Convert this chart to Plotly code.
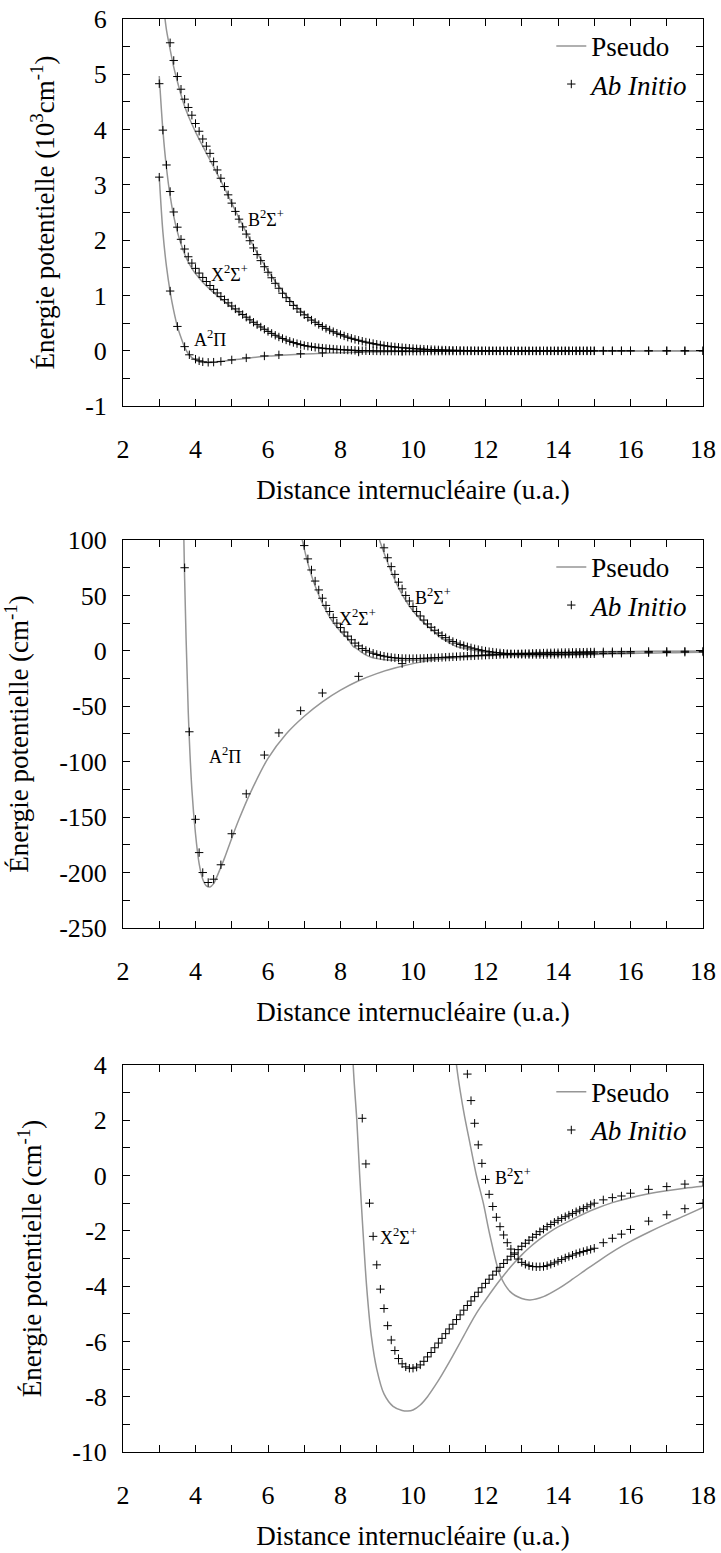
import plotly.graph_objects as go

FONT = "Liberation Serif"
GRAY = "rgb(150,150,150)"

# --- ab initio points (cm-1) ---
r_dense = [
    3.0, 3.1, 3.2, 3.3, 3.4, 3.5, 3.6, 3.7, 3.8, 3.9,
    4.0, 4.1, 4.2, 4.3, 4.4, 4.5, 4.6, 4.7, 4.8, 4.9,
    5.0, 5.1, 5.2, 5.3, 5.4, 5.5, 5.6, 5.7, 5.8, 5.9,
    6.0, 6.1, 6.2, 6.3, 6.4, 6.5, 6.6, 6.7, 6.8, 6.9,
    7.0, 7.1, 7.2, 7.3, 7.4, 7.5, 7.6, 7.7, 7.8, 7.9,
    8.0, 8.1, 8.2, 8.3, 8.4, 8.5, 8.6, 8.7, 8.8, 8.9,
    9.0, 9.1, 9.2, 9.3, 9.4, 9.5, 9.6, 9.7, 9.8, 9.9,
    10.0, 10.1, 10.2, 10.3, 10.4, 10.5, 10.6, 10.7, 10.8, 10.9,
    11.0, 11.1, 11.2, 11.3, 11.4, 11.5, 11.6, 11.7, 11.8, 11.9,
    12.0, 12.1, 12.2, 12.3, 12.4, 12.5, 12.6, 12.7, 12.8, 12.9,
    13.0, 13.1, 13.2, 13.3, 13.4, 13.5, 13.6, 13.7, 13.8, 13.9,
    14.0, 14.1, 14.2, 14.3, 14.4, 14.5, 14.6, 14.7, 14.8, 14.9,
    15.0, 15.25, 15.5, 15.75, 16.0, 16.5, 17.0, 17.5, 18.0,
]

x_ab = [
    4830, 3990, 3360, 2880, 2510, 2235, 2015, 1840, 1700, 1585,
    1490, 1405, 1326, 1252, 1180, 1110, 1045, 983, 924, 866,
    810, 757, 705, 655, 607, 560, 515, 472, 430, 389,
    350, 314, 280, 249, 221, 195, 171, 149, 129, 111,
    95, 83, 73, 63, 55, 47.5, 41, 35.5, 30, 25,
    21, 17, 13.3, 10, 7, 4.5, 2.07, 0.42, -1.0, -2.2,
    -3.23, -4.11, -4.81, -5.43, -5.95, -6.33, -6.62, -6.81, -6.92, -6.97,
    -6.97, -6.93, -6.85, -6.72, -6.56, -6.40, -6.23, -6.06, -5.89, -5.72,
    -5.55, -5.38, -5.21, -5.04, -4.87, -4.70, -4.54, -4.38, -4.22, -4.06,
    -3.90, -3.75, -3.60, -3.46, -3.32, -3.18, -3.05, -2.92, -2.80, -2.68,
    -2.56, -2.45, -2.34, -2.23, -2.13, -2.03, -1.94, -1.85, -1.77, -1.69,
    -1.62, -1.55, -1.49, -1.43, -1.37, -1.31, -1.25, -1.19, -1.13, -1.06,
    -1.00, -0.88, -0.80, -0.74, -0.64, -0.50, -0.40, -0.31, -0.23,
]

b_ab = [
    None, None, None, 5570, 5250, 4960, 4730, 4550, 4400, 4260,
    4110, 3970, 3830, 3700, 3570, 3420, 3270, 3120, 2970, 2820,
    2670, 2520, 2380, 2240, 2110, 1990, 1860, 1740, 1630, 1520,
    1420, 1320, 1220, 1130, 1040, 960, 890, 820, 760, 700,
    650, 600, 555, 515, 475, 440, 405, 375, 345, 318,
    293, 268, 246, 225, 206, 189, 172, 157, 143, 130,
    117, 105, 93, 84, 76, 69, 62, 56, 50, 45,
    40, 35.5, 31.5, 27.8, 24.3, 21.3, 18.6, 16.1, 13.9, 11.9,
    9.9, 8.4, 7.0, 5.8, 4.7, 3.67, 2.71, 1.89, 1.11, 0.44,
    -0.14, -0.68, -1.12, -1.51, -1.85, -2.15, -2.43, -2.66, -2.85, -3.02,
    -3.14, -3.21, -3.26, -3.29, -3.30, -3.30, -3.29, -3.26, -3.21, -3.16,
    -3.10, -3.04, -2.98, -2.93, -2.88, -2.83, -2.79, -2.75, -2.71, -2.67,
    -2.63, -2.43, -2.27, -2.12, -1.95, -1.65, -1.42, -1.20, -1.00,
]

r_a_ab = [3.0, 3.3, 3.5, 3.7, 3.83, 4.0, 4.1, 4.2, 4.35, 4.5,
          4.7, 5.0, 5.4, 5.9, 6.3, 6.9, 7.5, 8.5, 9.7]
a_ab = [3140, 1080, 440, 75, -73, -152, -182, -200, -209, -206,
        -193, -165, -129, -94, -74, -54, -38, -23, -11.5]

# --- pseudopotential curves (cm-1) ---
r_a_ps = [3.0, 3.1, 3.2, 3.3, 3.4, 3.5, 3.6, 3.7, 3.8, 3.9, 4.0, 4.1, 4.2,
          4.3, 4.4, 4.5, 4.6, 4.8, 5.0, 5.2, 5.5, 6.0, 6.5, 7.0, 7.5, 8.0,
          8.5, 9.0, 9.5, 10.0, 10.5, 11.0, 12.0, 13.0, 14.0, 15.0, 16.0,
          17.0, 18.0]
a_ps = [3150, 2150, 1520, 1070, 720, 440, 240, 65, -55, -125, -165, -192,
        -206, -212, -213, -210, -203, -187, -169, -152, -129, -97, -75,
        -59, -46, -35.5, -27, -20.5, -15.5, -11.5, -8.5, -6.3, -3.5, -2.0,
        -1.2, -0.8, -0.5, -0.35, -0.25]

r_x_ps = [3.0, 3.1, 3.2, 3.3, 3.4, 3.5, 3.6, 3.7, 3.8, 3.9, 4.0, 4.2, 4.4,
          4.6, 4.8, 5.0, 5.25, 5.5, 5.75, 6.0, 6.25, 6.5, 6.75, 7.0, 7.25,
          7.5, 7.75, 8.0, 8.2, 8.35, 8.45, 8.53, 8.62, 8.72, 8.85, 9.0,
          9.2, 9.45, 9.7, 9.86, 10.0, 10.2, 10.4, 10.6, 10.8, 11.0, 11.2,
          11.4, 11.6, 11.8, 12.0, 12.2, 12.4, 12.6, 12.8, 13.0, 13.2, 13.4,
          13.6, 13.8, 14.0, 14.5, 15.0, 15.5, 16.0, 16.5, 17.0, 17.5, 18.0]
x_ps = [4970, 3990, 3300, 2800, 2430, 2150, 1930, 1750, 1605, 1490, 1395,
        1240, 1110, 995, 890, 790, 675, 560, 455, 355, 265, 190, 135, 92,
        63, 43, 28, 17.5, 11, 4, 2, 0, -2, -4, -5.8, -7.0, -7.9, -8.35,
        -8.5, -8.52, -8.48, -8.3, -8.0, -7.62, -7.2, -6.75, -6.28, -5.8,
        -5.32, -4.88, -4.5, -4.13, -3.78, -3.45, -3.15, -2.87, -2.62, -2.4,
        -2.2, -2.02, -1.86, -1.52, -1.22, -0.98, -0.8, -0.66, -0.55, -0.46,
        -0.39]

r_b_ps = [3.15, 3.2, 3.3, 3.4, 3.5, 3.6, 3.7, 3.8, 3.9, 4.0, 4.2, 4.4, 4.6,
          4.8, 5.0, 5.2, 5.4, 5.6, 5.8, 6.0, 6.25, 6.5, 6.75, 7.0, 7.5, 8.0,
          8.5, 9.0, 9.25, 9.5, 9.75, 10.0, 10.25, 10.5, 10.75, 11.0, 11.2,
          11.4, 11.57, 11.75, 11.94, 12.12, 12.4, 12.68, 13.0, 13.23, 13.6,
          14.0, 14.4, 14.8, 15.2, 15.6, 16.0, 16.5, 17.0, 17.5, 18.0]
b_ps = [6050, 5800, 5450, 5130, 4870, 4630, 4420, 4250, 4100, 3960, 3700,
        3450, 3200, 2940, 2670, 2400, 2140, 1890, 1660, 1450, 1210, 1000,
        820, 670, 440, 285, 180, 108, 84, 64, 48, 36, 27, 19.5, 12.5, 7.5,
        4.0, 2.3, 1.17, 0.0, -1.0, -2.15, -3.6, -4.2, -4.45, -4.5, -4.38,
        -4.1, -3.75, -3.38, -3.02, -2.68, -2.38, -2.05, -1.74, -1.45, -1.15]

# --- per-panel axis settings ---
panels = [
    dict(scale=1000.0, yr=[-1, 6], ticks=[-1, 0, 1, 2, 3, 4, 5, 6], minor=0.5,
         ytitle="Énergie potentielle (10<sup>3</sup>cm<sup>-1</sup>)",
         states=["A", "X", "B"], dom=[0.7299, 1.0]),
    dict(scale=1.0, yr=[-250, 100], ticks=[-250, -200, -150, -100, -50, 0, 50, 100],
         minor=25, ytitle="Énergie potentielle (cm<sup>-1</sup>)",
         states=["A", "X", "B"], dom=[0.3657, 0.6364]),
    dict(scale=1.0, yr=[-10, 4], ticks=[-10, -8, -6, -4, -2, 0, 2, 4], minor=1,
         ytitle="Énergie potentielle (cm<sup>-1</sup>)",
         states=["X", "B"], dom=[0.0, 0.2701]),
]

labels = [
    [("A<sup>2</sup>Π", 4.4, 0.22), ("X<sup>2</sup>Σ<sup>+</sup>", 4.95, 1.4),
     ("B<sup>2</sup>Σ<sup>+</sup>", 5.95, 2.4)],
    [("A<sup>2</sup>Π", 4.8, -94), ("X<sup>2</sup>Σ<sup>+</sup>", 8.48, 30),
     ("B<sup>2</sup>Σ<sup>+</sup>", 10.54, 49)],
    [("X<sup>2</sup>Σ<sup>+</sup>", 9.6, -2.2), ("B<sup>2</sup>Σ<sup>+</sup>", 12.76, -0.05)],
]

pseudo = {"A": (r_a_ps, a_ps), "X": (r_x_ps, x_ps), "B": (r_b_ps, b_ps)}
abinit = {"A": (r_a_ab, a_ab), "X": (r_dense, x_ab), "B": (r_dense, b_ab)}

fig = go.Figure()
layout = dict()
annotations = []

for i, p in enumerate(panels, start=1):
    xa = "x" if i == 1 else f"x{i}"
    ya = "y" if i == 1 else f"y{i}"
    lg = "legend" if i == 1 else f"legend{i}"
    s = p["scale"]
    for k, st in enumerate(p["states"]):
        r, v = pseudo[st]
        fig.add_trace(go.Scatter(
            x=r, y=[val / s for val in v], mode="lines", name="Pseudo",
            line=dict(color=GRAY, width=1.5, shape="spline", smoothing=0.8),
            xaxis=xa, yaxis=ya, legend=lg, showlegend=(k == 0), legendrank=1))
    for k, st in enumerate(p["states"]):
        r, v = abinit[st]
        fig.add_trace(go.Scatter(
            x=r, y=[None if val is None else val / s for val in v], mode="markers",
            name="<i>Ab Initio</i>",
            marker=dict(symbol="cross-thin", size=6, line=dict(color="black", width=1)),
            xaxis=xa, yaxis=ya, legend=lg, showlegend=(k == 0), legendrank=2))

    xkey = "xaxis" if i == 1 else f"xaxis{i}"
    ykey = "yaxis" if i == 1 else f"yaxis{i}"
    layout[xkey] = dict(
        domain=[0, 1], anchor=ya, range=[2, 18], tick0=2, dtick=2,
        ticks="inside", ticklen=7, tickwidth=1, tickcolor="black",
        minor=dict(dtick=1, tick0=2, ticks="inside", ticklen=7, tickwidth=1, tickcolor="black"),
        showline=True, linecolor="black", linewidth=1, mirror="ticks",
        showgrid=False, zeroline=False, automargin=False,
        tickfont=dict(family=FONT, size=26, color="black"), ticklabelstandoff=20,
        title=dict(text="Distance internucléaire (u.a.)",
                   font=dict(family=FONT, size=27, color="black"), standoff=16),
    )
    layout[ykey] = dict(
        domain=p["dom"], anchor=xa, range=p["yr"],
        tickmode="array", tickvals=p["ticks"], ticktext=[str(t) for t in p["ticks"]],
        ticks="inside", ticklen=7, tickwidth=1, tickcolor="black",
        minor=dict(dtick=p["minor"], tick0=p["yr"][0], ticks="inside", ticklen=7,
                   tickwidth=1, tickcolor="black"),
        showline=True, linecolor="black", linewidth=1, mirror="ticks",
        showgrid=False, zeroline=False, automargin=False,
        tickfont=dict(family=FONT, size=26, color="black"), ticklabelstandoff=10,
        title=dict(text=p["ytitle"], font=dict(family=FONT, size=27, color="black"),
                   standoff=22),
    )
    d0, d1 = p["dom"]
    layout[lg] = dict(
        x=0.985, xanchor="right", y=d1 - 0.002, yanchor="top",
        bgcolor="rgba(0,0,0,0)", borderwidth=0,
        font=dict(family=FONT, size=27, color="black"),
        tracegroupgap=0, itemwidth=30,
    )
    for txt, lx, ly in labels[i - 1]:
        annotations.append(dict(
            x=lx, y=ly, xref=xa, yref=ya, text=txt, showarrow=False,
            font=dict(family=FONT, size=18, color="black")))

fig.update_layout(
    width=721, height=1553,
    margin=dict(l=123, r=18, t=19, b=101),
    paper_bgcolor="white", plot_bgcolor="white",
    font=dict(family=FONT, color="black"),
    annotations=annotations,
    **layout,
)

fig.write_html("out.html", config={"displayModeBar": False},
               post_script="document.body.style.margin='0';")
